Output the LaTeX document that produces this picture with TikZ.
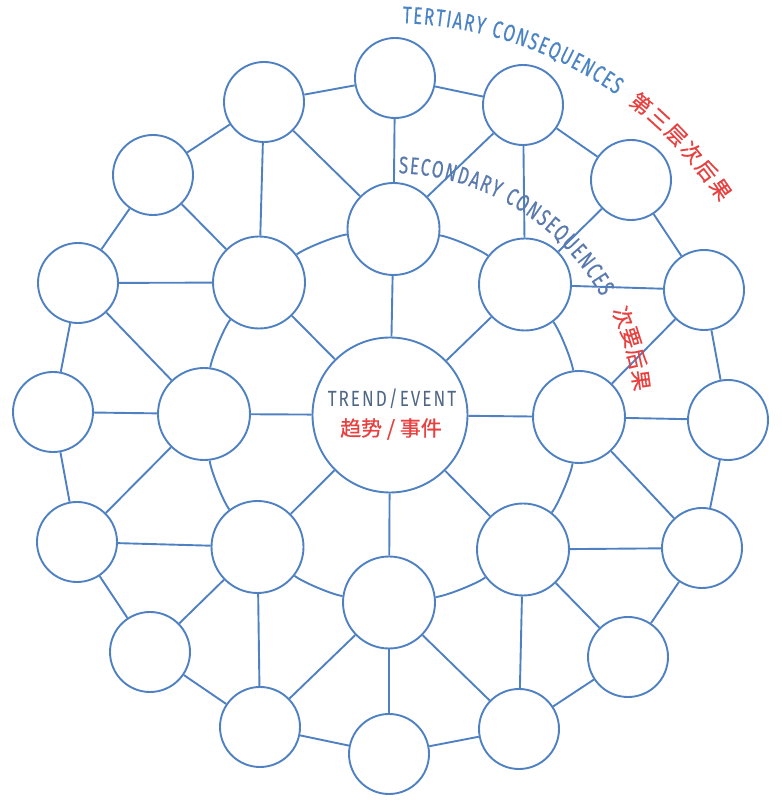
\documentclass[tikz,border=0pt]{standalone}
\usepackage{fontspec}
\usetikzlibrary{decorations.text,calc}
\newfontfamily\latinf[FakeStretch=0.78,LetterSpace=9]{Fira Sans}
\newfontfamily\latinarc[FakeStretch=0.7,FakeBold=0.4]{Fira Sans}
\newfontfamily\cjkf[FakeBold=0.6]{Noto Sans CJK SC}
\definecolor{lineblue}{HTML}{4F81C2}
\definecolor{tertblue}{HTML}{4A84C4}
\definecolor{secblue}{HTML}{5A7AAE}
\definecolor{trendgray}{HTML}{506784}
\definecolor{cnred}{HTML}{E8403F}
\newcommand\tertfont{\latinarc\fontsize{24pt}{24pt}\selectfont\kern1.6pt}
\newcommand\secfont{\latinarc\fontsize{24pt}{24pt}\selectfont\kern1.5pt}
\newcommand\ctrfont{\latinf\fontsize{22pt}{22pt}\selectfont}
\newcommand\cnfont{\cjkf\fontsize{21pt}{21pt}\selectfont}
\begin{document}
\begin{tikzpicture}[x=1pt,y=1pt,
  ring/.style={circle,draw=lineblue,line width=1.9pt,fill=white,inner sep=0pt},
  obox/.style={ring,minimum size=80pt},
  sbox/.style={ring,minimum size=92pt},
  cbox/.style={ring,minimum size=155pt},
  lnk/.style={draw=lineblue,line width=1.9pt},
  cnchar/.style={text=cnred,font=\cnfont,inner sep=0pt}]
\useasboundingbox (0,0) rectangle (782,807);

% centre
\node[cbox] (C) at (390,392) {};
% secondary ring
\node[sbox] (s1) at (393.5,578) {};
\node[sbox] (s2) at (525,522.5) {};
\node[sbox] (s3) at (579,390) {};
\node[sbox] (s4) at (523,257.5) {};
\node[sbox] (s5) at (389,204.5) {};
\node[sbox] (s6) at (257.5,260) {};
\node[sbox] (s7) at (204,393) {};
\node[sbox] (s8) at (259,524.5) {};
% tertiary ring
\node[obox] (o1) at (395,729) {};
\node[obox] (o2) at (523,702) {};
\node[obox] (o3) at (631,627) {};
\node[obox] (o4) at (704,517) {};
\node[obox] (o5) at (728,387) {};
\node[obox] (o6) at (702,259) {};
\node[obox] (o7) at (628,150) {};
\node[obox] (o8) at (519,78) {};
\node[obox] (o9) at (389,53) {};
\node[obox] (o10) at (260,80) {};
\node[obox] (o11) at (150,155) {};
\node[obox] (o12) at (77,265) {};
\node[obox] (o13) at (53,395) {};
\node[obox] (o14) at (78,524) {};
\node[obox] (o15) at (153,632) {};
\node[obox] (o16) at (264,705) {};

% connectors
\foreach \i in {1,...,8} \draw[lnk] (C) -- (s\i);
\foreach \i/\j in {1/2,2/3,3/4,4/5,5/6,6/7,7/8,8/1}
  \draw[lnk] (s\i) to[bend left=15,looseness=0.5] (s\j);
\foreach \i/\j in {1/2,2/3,3/4,4/5,5/6,6/7,7/8,8/9,9/10,10/11,11/12,12/13,13/14,14/15,15/16,16/1}
  \draw[lnk] (o\i) -- (o\j);
\foreach \s/\a/\b/\c in {1/16/1/2,2/2/3/4,3/4/5/6,4/6/7/8,5/8/9/10,6/10/11/12,7/12/13/14,8/14/15/16}{
  \draw[lnk] (s\s) -- (o\a);
  \draw[lnk] (s\s) -- (o\b);
  \draw[lnk] (s\s) -- (o\c);
}

% centre labels
\node[text=trendgray,font=\ctrfont,inner sep=0pt,anchor=base] (tl1) at (392,400) {TREND/EVENT};
\node[text=cnred,font=\cnfont,inner sep=0pt] (tl2) at (391,378) {趋势 / 事件};

% arc labels
\path[decorate,decoration={text along path,text color=tertblue,
  text={|\tertfont|TERTIARY CONSEQUENCES}}]
  ($(C)+(88.4:392)$) arc[start angle=88.4,end angle=20,radius=392];
\path[decorate,decoration={text along path,text color=secblue,
  text={|\secfont|SECONDARY CONSEQUENCES}}]
  ($(C)+(88.3:242)$) arc[start angle=88.3,end angle=0,radius=242];

\foreach \ch [count=\i from 0] in {第,三,层,次,后,果}{
  \pgfmathsetmacro\ang{51.1-3.36*\i}
  \node[cnchar,rotate=\ang-90] (tc\i) at ($(C)+(\ang:400)$) {\ch};
}
\foreach \ch [count=\i from 0] in {次,要,后,果}{
  \pgfmathsetmacro\ang{22.8-4.97*\i}
  \node[cnchar,rotate=\ang-90] (sc\i) at ($(C)+(\ang:253)$) {\ch};
}
\end{tikzpicture}
\end{document}
